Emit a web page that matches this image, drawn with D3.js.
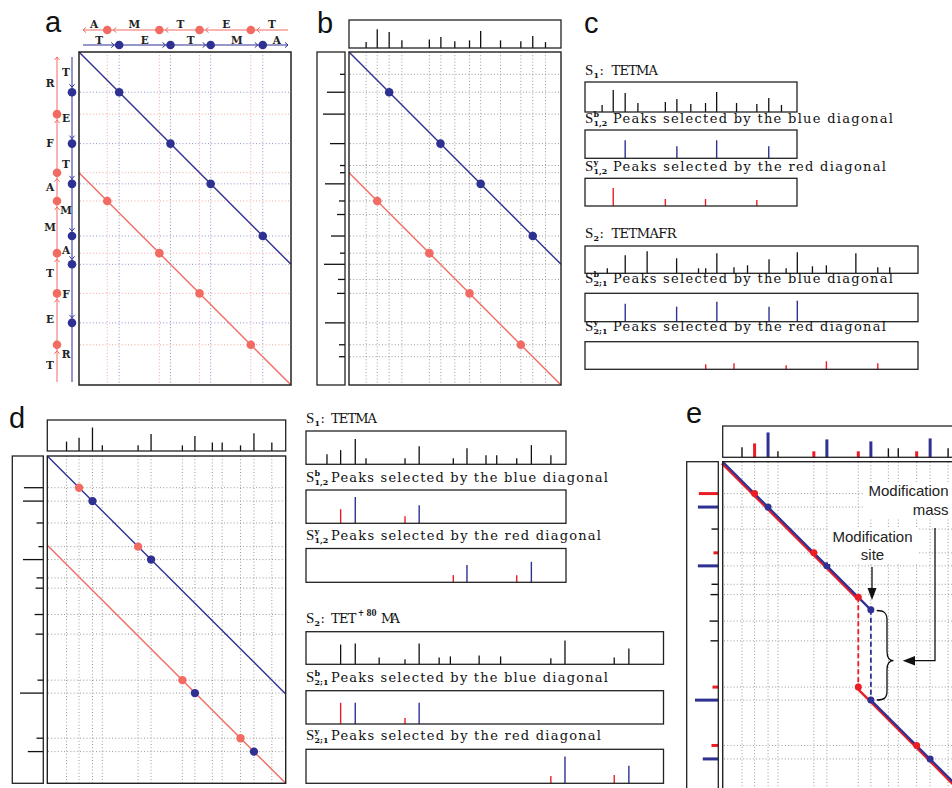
<!DOCTYPE html>
<html><head><meta charset="utf-8">
<script src="https://cdnjs.cloudflare.com/ajax/libs/d3/7.8.5/d3.min.js"></script>
<style>body{margin:0;background:#fff;} svg{display:block;}</style>
</head><body>
<svg id="fig" width="952" height="788"></svg>
<script>
// ================= DATA =================
// Panels a-c : S1 = TETMA, S2 = TETMAFR (masses in Da)
const s1Letters = ["T","E","T","M","A"];
const s2Letters = ["T","E","T","M","A","F","R"];
const s1Prefix = [101, 230, 331, 462];          // blue (b) breakpoints on S1
const s1Suffix = [71, 202, 303, 432];           // red (y) breakpoints on S1
const s1Total = 533;
const s2Prefix = [101, 230, 331, 462, 533, 680];
const s2Suffix = [156, 303, 374, 505, 606, 735];
const s2Total = 836;
const redOffset = 303;

// spectra (panels b, c)
const mz1  = [43, 71, 101, 133, 202, 231, 266, 303, 331, 381, 432, 462, 494];
const int1 = [7, 22, 19, 9, 10, 13, 8, 9, 20, 9, 8, 14, 7];
const mz2  = [56, 101, 156, 230, 285, 303, 331, 374, 408, 462, 505, 533, 571, 606, 680, 735, 765];
const int2 = [5, 18, 22, 15, 5, 5, 20, 6, 8, 14, 5, 21, 7, 8, 20, 6, 6];
const selB12mz = [101, 231, 331, 462], selB12int = [18, 12, 18, 12];
const selY12mz = [71, 202, 303, 432],  selY12int = [18, 7, 7, 6];
const selB21mz = [101, 230, 331, 462, 533], selB21int = [18, 15, 20, 15, 21];
const selY21mz = [303, 374, 505, 606, 735], selY21int = [5, 6, 4, 8, 6];

// Panels d-e : S1 = TETMA, S2 = TET(+80)MA
const dTotal1 = 533, dTotal2 = 733, modShift = 200;
const mzD1  = [43, 71, 101, 123, 203, 232, 302, 330, 369, 391, 432, 462, 502];
const intD1 = [10, 14, 25, 6, 6, 18, 6, 16, 9, 9, 6, 19, 9];
const mzD2  = [71, 101, 150, 203, 232, 273, 296, 355, 399, 502, 531, 632, 662];
const intD2 = [20, 21, 7, 5, 21, 7, 8, 9, 8, 6, 24, 7, 16];
const dBlueX = [101, 232, 330, 462], dBlueY = [101, 232, 531, 662];
const dRedX  = [71, 203, 302, 432],  dRedY  = [71, 203, 502, 632];
const selDB12mz = [71, 101, 203, 232], selDB12int = [14, 26, 7, 18], selDB12col = ["r","b","r","b"];
const selDY12mz = [302, 330, 432, 462], selDY12int = [7, 17, 7, 20], selDY12col = ["r","b","r","b"];
const selDB21mz = [71, 101, 203, 232], selDB21int = [21, 21, 6, 21], selDB21col = ["r","b","r","b"];
const selDY21mz = [502, 531, 632, 662], selDY21int = [7, 26, 8, 17], selDY21col = ["r","b","r","b"];
const eTopCol  = ["k","r","b","k","r","b","r","b","k","k","r","b","k"];
const eLeftCol = ["r","b","k","r","b","k","k","k","k","r","b","r","b"];
const eBlueX = [101, 232, 330, 330, 462], eBlueY = [101, 232, 330, 531, 662];
const eRedX  = [71, 203, 302, 302, 432],  eRedY  = [71, 203, 302, 502, 632];

// ================= DRAWING =================
const svg = d3.select("#fig");
const BLUE = "#2e3192", SALMON = "#f26b63", RED = "#ec1c24", INK = "#222";
const COL = {r: RED, b: BLUE, k: "#111"};
const SERIF = "'DejaVu Serif', serif", SERIF2 = "'Liberation Serif', serif", SANS = "'Liberation Sans', Arial, sans-serif";

function box(g, x0, y0, x1, y1, sw) {
  g.append("rect").attr("x", x0).attr("y", y0).attr("width", x1 - x0).attr("height", y1 - y0)
    .attr("fill", "none").attr("stroke", INK).attr("stroke-width", sw || 1.3);
}
function topSpec(g, xs, y0, y1, mz, inten, iMax, colors, sw) {
  const hy = d3.scaleLinear().domain([0, iMax]).range([y1, y0]);
  g.selectAll(null).data(mz.map((m, i) => ({m, v: inten[i], c: colors[i]}))).join("line")
    .attr("x1", d => xs(d.m)).attr("x2", d => xs(d.m)).attr("y1", y1).attr("y2", d => hy(d.v))
    .attr("stroke", d => d.c).attr("stroke-width", d => (typeof sw === "function" ? sw(d) : sw));
}
function leftSpec(g, ys, x0, x1, mz, inten, iMax, colors, sw) {
  const hx = d3.scaleLinear().domain([0, iMax]).range([x1, x0]);
  g.selectAll(null).data(mz.map((m, i) => ({m, v: inten[i], c: colors[i]}))).join("line")
    .attr("y1", d => ys(d.m)).attr("y2", d => ys(d.m)).attr("x1", x1).attr("x2", d => hx(d.v))
    .attr("stroke", d => d.c).attr("stroke-width", d => (typeof sw === "function" ? sw(d) : sw));
}
function vgrid(g, xs, vals, y0, y1, color) {
  g.selectAll(null).data(vals).join("line").attr("x1", d => xs(d)).attr("x2", d => xs(d))
    .attr("y1", y0).attr("y2", y1).attr("stroke", color).attr("stroke-width", 1).attr("stroke-dasharray", "1,2.2");
}
function hgrid(g, ys, vals, x0, x1, color) {
  g.selectAll(null).data(vals).join("line").attr("y1", d => ys(d)).attr("y2", d => ys(d))
    .attr("x1", x0).attr("x2", x1).attr("stroke", color).attr("stroke-width", 1).attr("stroke-dasharray", "1,2.2");
}
function dots(g, xs, ys, X, Y, color, r) {
  g.selectAll(null).data(X.map((x, i) => [x, Y[i]])).join("circle")
    .attr("cx", d => xs(d[0])).attr("cy", d => ys(d[1])).attr("r", r).attr("fill", color);
}
function seg(g, xs, ys, pts, color, sw, dash) {
  g.append("path").attr("d", d3.line().x(d => xs(d[0])).y(d => ys(d[1]))(pts))
    .attr("fill", "none").attr("stroke", color).attr("stroke-width", sw).attr("stroke-dasharray", dash || null);
}
function panelLabel(t, x, y) {
  svg.append("text").attr("x", x).attr("y", y).text(t).attr("font-family", SANS).attr("font-size", 29).attr("fill", "#111");
}
// "S" label with sub/superscript and a following text
function sLabel(x, y, sup, sub, rest, restX, restLen) {
  const t = svg.append("g").attr("fill", "#111");
  t.append("text").attr("x", x).attr("y", y).text("S").attr("font-family", SERIF2).attr("font-size", 15);
  if (sup) t.append("text").attr("x", x + 8.4).attr("y", y - 6.5).text(sup).attr("font-family", SERIF).attr("font-size", 8).attr("font-weight", "bold");
  t.append("text").attr("x", x + 8.4).attr("y", y + 3).text(sub).attr("font-family", SERIF).attr("font-size", 8).attr("font-weight", "bold");
  if (rest) t.append("text").attr("x", restX).attr("y", y).text(rest).attr("font-family", SERIF).attr("font-size", 13)
    .attr("textLength", restLen).attr("lengthAdjust", "spacing");
  return t;
}
function plainText(x, y, s, len, size) {
  const t = svg.append("text").attr("x", x).attr("y", y).text(s).attr("font-family", SERIF).attr("font-size", size || 13).attr("fill", "#111");
  if (len) t.attr("textLength", len).attr("lengthAdjust", "spacing");
  return t;
}
// open chevron arrow head
function chevron(g, x, y, dir, color) {
  const p = {left: "M3,-2.6L0,0L3,2.6", right: "M-3,-2.6L0,0L-3,2.6", up: "M-2.6,3L0,0L2.6,3", down: "M-2.6,-3L0,0L2.6,-3"}[dir];
  g.append("path").attr("d", p).attr("transform", `translate(${x},${y})`).attr("fill", "none")
    .attr("stroke", color).attr("stroke-width", 1);
}
function letter(g, x, y, L) {
  g.append("text").attr("x", x).attr("y", y).text(L).attr("text-anchor", "middle")
    .attr("font-family", SERIF).attr("font-weight", "bold").attr("font-size", 10.5).attr("fill", "#222");
}

// ---------------- Panel a ----------------
{
  const g = svg.append("g");
  const xa = d3.scaleLinear().domain([0, s1Total]).range([79, 291]);
  const ya = d3.scaleLinear().domain([0, s2Total]).range([52, 385]);
  vgrid(g, xa, s1Suffix, 52, 385, "#f3a49d");
  vgrid(g, xa, s1Prefix, 52, 385, "#8f93cc");
  hgrid(g, ya, s2Suffix, 80, 291, "#f3a49d");
  hgrid(g, ya, s2Prefix, 80, 291, "#8f93cc");
  seg(g, xa, ya, [[0, 0], [s1Total, s1Total]], BLUE, 1.4);
  seg(g, xa, ya, [[0, redOffset], [s1Total, s1Total + redOffset]], SALMON, 1.4);
  dots(g, xa, ya, s1Prefix, s2Prefix.slice(0, 4), BLUE, 4.3);
  dots(g, xa, ya, s1Suffix, s1Suffix.map(d => d + redOffset), SALMON, 4.3);
  box(g, 79, 52, 291, 385, 1.5);

  // top axes
  const yR = 30, yB = 45;
  g.append("line").attr("x1", 83).attr("x2", 288).attr("y1", yR).attr("y2", yR).attr("stroke", SALMON).attr("stroke-width", 1);
  g.append("line").attr("x1", 83).attr("x2", 288).attr("y1", yB).attr("y2", yB).attr("stroke", BLUE).attr("stroke-width", 1);
  chevron(g, 83, yR, "left", SALMON);
  s1Suffix.forEach(d => chevron(g, xa(d) + 6, yR, "left", SALMON));
  s1Prefix.forEach(d => chevron(g, xa(d) - 5, yB, "right", BLUE));
  chevron(g, 288, yB, "right", BLUE);
  s1Suffix.forEach(d => g.append("circle").attr("cx", xa(d)).attr("cy", yR).attr("r", 4.3).attr("fill", SALMON));
  s1Prefix.forEach(d => g.append("circle").attr("cx", xa(d)).attr("cy", yB).attr("r", 4.3).attr("fill", BLUE));
  const rb = [0, ...s1Suffix, s1Total], bb = [0, ...s1Prefix, s1Total];
  s1Letters.slice().reverse().forEach((L, i) => letter(g, (xa(rb[i]) + xa(rb[i + 1])) / 2 + 1, 28, L));
  s1Letters.forEach((L, i) => letter(g, (xa(bb[i]) + xa(bb[i + 1])) / 2, 43.5, L));

  // left axes
  const xR = 57, xB = 72;
  g.append("line").attr("x1", xR).attr("x2", xR).attr("y1", 57).attr("y2", 382).attr("stroke", SALMON).attr("stroke-width", 1);
  g.append("line").attr("x1", xB).attr("x2", xB).attr("y1", 57).attr("y2", 382).attr("stroke", BLUE).attr("stroke-width", 1);
  chevron(g, xR, 57, "up", SALMON);
  s2Suffix.forEach(d => chevron(g, xR, ya(d) + 6, "up", SALMON));
  s2Prefix.forEach(d => chevron(g, xB, ya(d) - 5, "down", BLUE));
  s2Suffix.forEach(d => g.append("circle").attr("cx", xR).attr("cy", ya(d)).attr("r", 4.3).attr("fill", SALMON));
  s2Prefix.forEach(d => g.append("circle").attr("cx", xB).attr("cy", ya(d)).attr("r", 4.3).attr("fill", BLUE));
  const rl = [0, ...s2Suffix, s2Total], bl = [0, ...s2Prefix, s2Total];
  s2Letters.slice().reverse().forEach((L, i) => letter(g, 50, (ya(rl[i]) + ya(rl[i + 1])) / 2 + 4, L));
  s2Letters.forEach((L, i) => letter(g, 66, (ya(bl[i]) + ya(bl[i + 1])) / 2 + 4, L));
}

// ---------------- Panel b ----------------
{
  const g = svg.append("g");
  const xb = d3.scaleLinear().domain([0, s1Total]).range([349, 561]);
  const yb = d3.scaleLinear().domain([0, s2Total]).range([52, 385]);
  vgrid(g, xb, mz1, 52, 385, "#9a9a9a");
  hgrid(g, yb, mz2, 350, 561, "#9a9a9a");
  seg(g, xb, yb, [[0, 0], [s1Total, s1Total]], BLUE, 1.4);
  seg(g, xb, yb, [[0, redOffset], [s1Total, s1Total + redOffset]], SALMON, 1.4);
  dots(g, xb, yb, s1Prefix, s2Prefix.slice(0, 4), BLUE, 4.3);
  dots(g, xb, yb, s1Suffix, s1Suffix.map(d => d + redOffset), SALMON, 4.3);
  box(g, 349, 52, 561, 385, 1.4);
  topSpec(g, xb, 20, 48, mz1, int1, 33, mz1.map(() => "#111"), 1.3);
  box(g, 349, 20, 561, 48, 1.3);
  leftSpec(g, yb, 317, 345, mz2, int2, 28, mz2.map(() => "#111"), 1.3);
  box(g, 317, 52, 345, 385, 1.3);
}

// ---------------- Panel c ----------------
{
  const g = svg.append("g");
  const xc1 = d3.scaleLinear().domain([0, s1Total]).range([585, 797]);
  const xc2 = d3.scaleLinear().domain([0, s2Total]).range([585, 918]);
  const K = mz => mz.map(() => "#111");
  // S1
  sLabel(585, 75, null, "1");
  plainText(599.5, 75, ":");
  plainText(611.5, 75, "TETMA", 46.5);
  topSpec(g, xc1, 82, 112, mz1, int1, 30, K(mz1), 1.3); box(g, 585, 82, 797, 112);
  sLabel(585, 123, "b", "1,2", "Peaks selected by the blue diagonal", 613, 280);
  topSpec(g, xc1, 130, 158.3, selB12mz, selB12int, 28.3, selB12mz.map(() => BLUE), 1.4); box(g, 585, 130, 797, 158.3);
  sLabel(585, 171, "y", "1,2", "Peaks selected by the red diagonal", 613, 273);
  topSpec(g, xc1, 178.3, 206, selY12mz, selY12int, 27.7, selY12mz.map(() => RED), 1.4); box(g, 585, 178.3, 797, 206);
  // S2
  sLabel(585, 238, null, "2");
  plainText(599.5, 238, ":");
  plainText(611.5, 238, "TETMAFR", 65);
  topSpec(g, xc2, 246, 273.3, mz2, int2, 27.3, K(mz2), 1.3); box(g, 585, 246, 918, 273.3);
  sLabel(585, 283, "b", "2;1", "Peaks selected by the blue diagonal", 613, 280);
  topSpec(g, xc2, 293.3, 321.7, selB21mz, selB21int, 28.4, selB21mz.map(() => BLUE), 1.4); box(g, 585, 293.3, 918, 321.7);
  sLabel(585, 331, "y", "2;1", "Peaks selected by the red diagonal", 613, 273);
  topSpec(g, xc2, 341.7, 369.3, selY21mz, selY21int, 27.6, selY21mz.map(() => RED), 1.4); box(g, 585, 341.7, 918, 369.3);
}

// ---------------- Panel d ----------------
{
  const g = svg.append("g");
  const xd = d3.scaleLinear().domain([0, dTotal1]).range([47.3, 285.7]);
  const yd = d3.scaleLinear().domain([0, dTotal2]).range([456, 783.3]);
  vgrid(g, xd, mzD1, 456, 783, "#9a9a9a");
  hgrid(g, yd, mzD2, 48, 285.7, "#9a9a9a");
  seg(g, xd, yd, [[0, 0], [dTotal1, dTotal1]], BLUE, 1.4);
  seg(g, xd, yd, [[0, modShift], [dTotal1, dTotal1 + modShift]], SALMON, 1.4);
  dots(g, xd, yd, dRedX, dRedY, SALMON, 4.2);
  dots(g, xd, yd, dBlueX, dBlueY, BLUE, 4.2);
  box(g, 47.3, 456, 285.7, 783.3, 1.4);
  topSpec(g, xd, 420, 451, mzD1, intD1, 33, mzD1.map(() => "#111"), 1.3); box(g, 47.3, 420, 285.7, 451);
  leftSpec(g, yd, 12.3, 43.3, mzD2, intD2, 32, mzD2.map(() => "#111"), 1.3); box(g, 12.3, 456, 43.3, 783.3);

  const xd1 = d3.scaleLinear().domain([0, dTotal1]).range([306, 566]);
  const xd2 = d3.scaleLinear().domain([0, dTotal2]).range([306, 663.5]);
  sLabel(306, 423, null, "1");
  plainText(320.5, 423, ":");
  plainText(331, 423, "TETMA", 46);
  topSpec(g, xd1, 431, 464.3, mzD1, intD1, 33, mzD1.map(() => "#111"), 1.3); box(g, 306, 431, 566, 464.3);
  sLabel(306, 482, "b", "1,2", "Peaks selected by the blue diagonal", 331, 277);
  topSpec(g, xd1, 490, 523.3, selDB12mz, selDB12int, 33, selDB12col.map(c => COL[c]), 1.4); box(g, 306, 490, 566, 523.3);
  sLabel(306, 540, "y", "1,2", "Peaks selected by the red diagonal", 331, 270);
  topSpec(g, xd1, 548.5, 582.3, selDY12mz, selDY12int, 33, selDY12col.map(c => COL[c]), 1.4); box(g, 306, 548.5, 566, 582.3);

  sLabel(306, 623, null, "2");
  plainText(320.5, 623, ":");
  plainText(331, 623, "TET", 25.5);
  svg.append("text").attr("x", 358).attr("y", 615.5).text("+ 80").attr("font-family", SERIF).attr("font-size", 8.5)
    .attr("font-weight", "bold").attr("fill", "#111").attr("textLength", 18.5).attr("lengthAdjust", "spacingAndGlyphs");
  plainText(381, 623, "MA", 19);
  topSpec(g, xd2, 631.7, 664.3, mzD2, intD2, 33, mzD2.map(() => "#111"), 1.3); box(g, 306, 631.7, 663.5, 664.3);
  sLabel(306, 682, "b", "2;1", "Peaks selected by the blue diagonal", 331, 277);
  topSpec(g, xd2, 690.7, 724, selDB21mz, selDB21int, 33, selDB21col.map(c => COL[c]), 1.4); box(g, 306, 690.7, 663.5, 724);
  sLabel(306, 740, "y", "2;1", "Peaks selected by the red diagonal", 331, 270);
  topSpec(g, xd2, 749.3, 783.3, selDY21mz, selDY21int, 33, selDY21col.map(c => COL[c]), 1.4); box(g, 306, 749.3, 663.5, 783.3);
}

// ---------------- Panel e ----------------
{
  const g = svg.append("g");
  const xe = d3.scaleLinear().domain([0, dTotal1]).range([722.7, 722.7 + dTotal1 * 0.449]);
  const ye = d3.scaleLinear().domain([0, dTotal2]).range([461.7, 461.7 + dTotal2 * 0.449]);
  const yEnd = ye(dTotal2);
  vgrid(g, xe, mzD1, 462, yEnd, "#9a9a9a");
  hgrid(g, ye, mzD2, 724, 962, "#9a9a9a");
  const gr = g.append("g").attr("transform", "translate(-0.8,1.6)");
  seg(gr, xe, ye, [[0, 0], [302, 302]], RED, 2.4);
  seg(gr, xe, ye, [[302, 502], [dTotal1, dTotal1 + modShift]], RED, 2.4);
  seg(g, xe, ye, [[302, 302], [302, 502]], RED, 1.8, "5,3");
  seg(g, xe, ye, [[0, 0], [330, 330]], BLUE, 2.2);
  seg(g, xe, ye, [[330, 531], [dTotal1, dTotal1 + modShift]], BLUE, 2.2);
  seg(g, xe, ye, [[330, 330], [330, 531]], BLUE, 1.8, "5,3");
  dots(g, xe, ye, eRedX, eRedY, RED, 3.5);
  dots(g, xe, ye, eBlueX, eBlueY, BLUE, 3.5);
  box(g, 722.7, 461.7, 962, 795, 1.4);
  topSpec(g, xe, 426, 457.3, mzD1, intD1, 31.5, eTopCol.map(c => COL[c]), d => (d.c === "#111" ? 1.4 : 3)); box(g, 722.7, 426, 962, 457.3);
  leftSpec(g, ye, 686.7, 718.3, mzD2, intD2, 32.5, eLeftCol.map(c => COL[c]), d => (d.c === "#111" ? 1.4 : 3)); box(g, 686.7, 461.7, 718.3, 795);

  // annotations
  const ann = svg.append("g").attr("font-family", SANS).attr("font-size", 15).attr("fill", "#222");
  ann.append("rect").attr("x", 863).attr("y", 482).attr("width", 90).attr("height", 37).attr("fill", "#fff");
  ann.append("rect").attr("x", 828).attr("y", 528).attr("width", 90).attr("height", 36).attr("fill", "#fff");
  ann.append("text").attr("x", 948.5).attr("y", 496).attr("text-anchor", "end").text("Modification");
  ann.append("text").attr("x", 948.5).attr("y", 515).attr("text-anchor", "end").text("mass");
  ann.append("text").attr("x", 872.5).attr("y", 542).attr("text-anchor", "middle").text("Modification");
  ann.append("text").attr("x", 872.5).attr("y", 560).attr("text-anchor", "middle").text("site");
  // site arrow
  ann.append("line").attr("x1", 872).attr("x2", 872).attr("y1", 567).attr("y2", 592).attr("stroke", "#111").attr("stroke-width", 1.3);
  ann.append("path").attr("d", "M872,600L867.5,588L876.5,588Z").attr("fill", "#111");
  // mass arrow
  ann.append("path").attr("d", "M935,528L935,660.7L912,660.7").attr("fill", "none").attr("stroke", "#111").attr("stroke-width", 1.3);
  ann.append("path").attr("d", "M902.7,660.7L915,656L915,665.4Z").attr("fill", "#111");
  // brace
  ann.append("path").attr("d", "M876.7,610.5C884,610.5 887,613 887,620L887,651C887,658 889,660.7 893.5,660.7C889,660.7 887,663.5 887,670L887,691C887,698 884,700 876.7,700")
    .attr("fill", "none").attr("stroke", "#111").attr("stroke-width", 1.3);
}

// panel letters
panelLabel("a", 45, 32);
panelLabel("b", 317, 33);
panelLabel("c", 584, 33);
panelLabel("d", 9, 428);
panelLabel("e", 686, 423);
</script>
</body></html>
